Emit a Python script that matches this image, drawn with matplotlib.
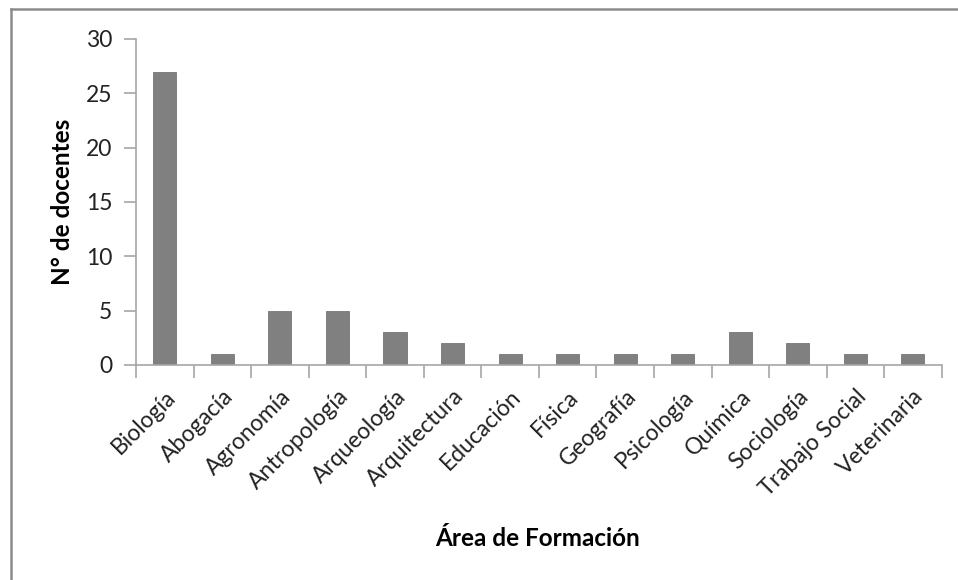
import matplotlib
matplotlib.use("Agg")
import matplotlib.pyplot as plt
from matplotlib.lines import Line2D

areas = ["Biología", "Abogacía", "Agronomía", "Antropología", "Arqueología",
         "Arquitectura", "Educación", "Física", "Geografía", "Psicología",
         "Química", "Sociología", "Trabajo Social", "Veterinaria"]
docentes = [27, 1, 5, 5, 3, 2, 1, 1, 1, 1, 3, 2, 1, 1]
y_ticks = [0, 5, 10, 15, 20, 25, 30]

plt.rcParams['font.family'] = ['Lato', 'DejaVu Sans']

AXIS_GRAY = '#a6a6a6'
BAR_GRAY = '#808080'

fig = plt.figure(figsize=(9.58, 5.8), dpi=100)
ax = fig.add_axes([0.142, 0.3707, 0.841, 0.5621])

x = list(range(len(areas)))
ax.bar(x, docentes, width=0.4, color=BAR_GRAY, edgecolor='#767676', linewidth=0.6)

ax.set_xlim(-0.5, len(areas) - 0.5)
ax.set_ylim(0, 30)
ax.set_yticks(y_ticks)
ax.set_yticklabels([str(v) for v in y_ticks], fontsize=16.5, color='#222222')

# category boundaries as x ticks, labels at centres
ax.set_xticks([i - 0.5 for i in range(len(areas) + 1)])
ax.set_xticklabels([])
ax.set_xticks(x, minor=True)
ax.set_xticklabels(areas, minor=True, rotation=45, ha='right',
                   rotation_mode='anchor', fontsize=16.5, color='#222222')
ax.tick_params(axis='x', which='minor', length=0, pad=15)
ax.tick_params(axis='x', which='major', length=9, width=1.2, color=AXIS_GRAY, direction='out')
ax.tick_params(axis='y', length=9, width=1.2, color=AXIS_GRAY, direction='out', pad=8)

for side in ['top', 'right']:
    ax.spines[side].set_visible(False)
for side in ['left', 'bottom']:
    ax.spines[side].set_color(AXIS_GRAY)
    ax.spines[side].set_linewidth(1.2)

ax.set_ylabel("N° de docentes", fontsize=17.5, fontweight='bold')
ax.yaxis.set_label_coords(-0.077, 0.5)
fig.text(0.561, 1 - 538 / 580, "Área de Formación", fontsize=17.5, fontweight='bold',
         ha='center', va='center')

# chart frame (only top and left edges visible in the crop)
fig.add_artist(Line2D([10.5 / 958, 1], [1 - 9 / 580, 1 - 9 / 580],
                      transform=fig.transFigure, color='#8c8c8c', linewidth=1.8))
fig.add_artist(Line2D([10.5 / 958, 10.5 / 958], [0, 1 - 9 / 580],
                      transform=fig.transFigure, color='#8c8c8c', linewidth=1.8))

fig.savefig("out.png", dpi=100)
